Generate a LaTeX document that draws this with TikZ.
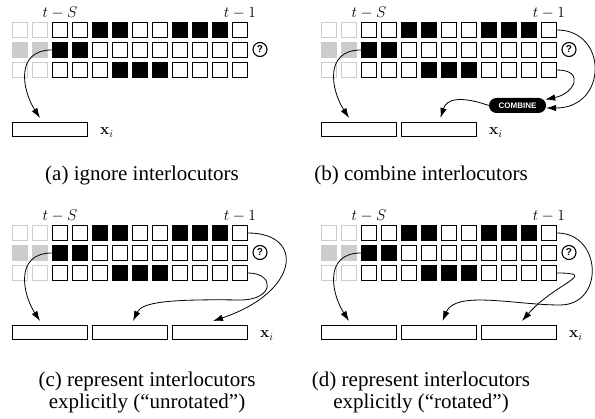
\RequirePackage{fix-cm}
\documentclass[tikz,border=0pt]{standalone}
\usepackage[no-math]{fontspec}
\setmainfont{Liberation Serif}
\newfontfamily\sansb{Liberation Sans}
\usetikzlibrary{arrows.meta}
\definecolor{lightg}{gray}{0.8}
\tikzset{
 cellbox/.style={draw, rectangle, minimum width=15pt, minimum height=15pt, inner sep=0pt, line width=1pt},
 cellkind/.code={\ifcase#1\relax\tikzset{draw=black,fill=white}\or\tikzset{draw=black,fill=black}\or\tikzset{draw=lightg,fill=white}\or\tikzset{draw=lightg,fill=lightg}\fi},
 outbox/.style={draw, rectangle, minimum width=75pt, minimum height=14pt, inner sep=0pt, line width=1pt},
 qmark/.style={draw, circle, line width=1.1pt, minimum size=14pt, inner sep=0pt, font=\sansb\bfseries\fontsize{10}{10}\selectfont},
 combine/.style={fill=black, text=white, rounded corners=7.5pt, minimum width=57pt, minimum height=15pt, inner sep=0pt, font=\sansb\bfseries\fontsize{8}{8}\selectfont},
 timelab/.style={anchor=base, inner sep=0pt, font=\fontsize{15.5}{18}\selectfont},
 xlab/.style={anchor=base west, inner sep=0pt, font=\fontsize{15.5}{18}\selectfont},
 caption/.style={anchor=base, align=center, inner sep=0pt, font=\fontsize{21}{22}\selectfont},
 arr/.style={-{Latex[length=10pt,width=6.5pt]}, line width=0.8pt},
}
\def\patA{2,2,0,0,1,1,0,0,1,1,1,0}
\def\patB{3,3,1,1,0,0,0,0,0,0,0,0}
\def\patC{2,2,0,0,0,1,1,1,0,0,0,0}
\newcommand\mkgrid[3]{%
  \foreach \r/\pat in {1/\patA,2/\patB,3/\patC}{%
    \foreach \c in {0,...,11}{%
      \pgfmathtruncatemacro\k{{\pat}[\c]}%
      \node[cellbox,cellkind=\k] (#1-\r-\c) at ({#2+20+20*\c},{#3+30+20*(\r-1)}) {};
    }%
  }%
  \node[timelab] (#1-ts) at ([yshift=4.5pt]#1-1-2.north) {$t-S$};
  \node[timelab] (#1-t1) at ([yshift=4.5pt]#1-1-11.north) {$t-1$};
  \node[qmark] (#1-q) at ({#2+260},{#3+49.5}) {?};
}
\begin{document}
\begin{tikzpicture}[x=1pt,y=-1pt]
\useasboundingbox (0,0) rectangle (595,419);
\mkgrid{a}{0}{0}
\mkgrid{b}{309}{0}
\mkgrid{c}{0}{203}
\mkgrid{d}{309}{203}
% output boxes
\node[outbox] (a-o1) at (50,129.5) {};
\node[xlab] (a-x) at ([xshift=12pt,yshift=-5.5pt]a-o1.east) {$\mathbf{x}_i$};
\node[outbox] (b-o1) at (359,129.5) {};
\node[outbox] (b-o2) at (439,129.5) {};
\node[xlab] (b-x) at ([xshift=12pt,yshift=-5.5pt]b-o2.east) {$\mathbf{x}_i$};
\node[outbox] (c-o1) at (50,332.5) {};
\node[outbox] (c-o2) at (130,332.5) {};
\node[outbox] (c-o3) at (210,332.5) {};
\node[xlab] (c-x) at ([xshift=12pt,yshift=-5.5pt]c-o3.east) {$\mathbf{x}_i$};
\node[outbox] (d-o1) at (359,332.5) {};
\node[outbox] (d-o2) at (439,332.5) {};
\node[outbox] (d-o3) at (519,332.5) {};
\node[xlab] (d-x) at ([xshift=12pt,yshift=-5.5pt]d-o3.east) {$\mathbf{x}_i$};
\node[combine] (b-comb) at (517.5,105.5) {COMBINE};
% arrows (a)
\draw[arr] (a-2-2.west) .. controls +(-37,0) and +(-18,-28) .. ([xshift=-10pt,yshift=4pt]a-o1.north);
% arrows (b)
\draw[arr] (b-2-2.west) .. controls +(-37,0) and +(-18,-28) .. ([xshift=-10pt,yshift=4pt]b-o1.north);
\draw[arr] (b-1-11.east) .. controls +(51,0) and +(62,0) .. ([yshift=-2.5pt]b-comb.east);
\draw[arr] (b-3-11.east) .. controls +(28,0) and +(30,-6) .. ([xshift=-1pt,yshift=6pt]b-comb.east);
\draw[arr] (b-comb.west) .. controls +(-29,-10) and +(6,-19) .. ([xshift=1.5pt,yshift=4pt]b-o2.north);
% arrows (c)
\draw[arr] (c-2-2.west) .. controls +(-37,0) and +(-18,-28) .. ([xshift=-10pt,yshift=4pt]c-o1.north);
\draw[arr] (c-1-11.east) .. controls +(57,0) and +(87,-29) .. ([xshift=3pt,yshift=4pt]c-o3.north);
\coordinate (c-wp) at ([xshift=-8pt,yshift=-27pt]c-3-11.east);
\draw[arr] (c-3-11.east) .. controls +(27,0) and +(35,0) .. (c-wp) .. controls +(-70,-1) and +(9,-19) .. ([xshift=3pt,yshift=4pt]c-o2.north);
% arrows (d)
\draw[arr] (d-2-2.west) .. controls +(-37,0) and +(-18,-28) .. ([xshift=-10pt,yshift=4pt]d-o1.north);
\draw[arr] (d-3-11.east) .. controls +(43,0) and +(33,-38) .. ([xshift=3pt,yshift=4pt]d-o3.north);
\coordinate (d-wp) at ([xshift=3pt,yshift=-72pt]d-1-11.east);
\draw[arr] (d-1-11.east) .. controls +(45,0) and +(45,0) .. (d-wp) .. controls +(-45,0) and +(13,-31) .. ([xshift=3.5pt,yshift=4pt]d-o2.north);
% captions
\node[caption] (cap-a) at (142,181) {(a) ignore interlocutors};
\node[caption] (cap-b) at (421,181) {(b) combine interlocutors};
\node[caption] (cap-c) at (147,409) {(c) represent interlocutors\\explicitly (``unrotated'')};
\node[caption] (cap-d) at (421,409) {(d) represent interlocutors\\explicitly (``rotated'')};
\end{tikzpicture}
\end{document}
